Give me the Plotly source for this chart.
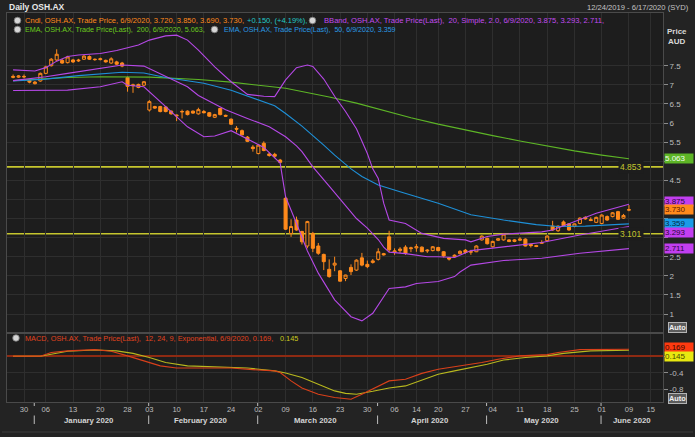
import plotly.graph_objects as go

# ---------------- data ----------------
dates = [
    "2019-12-24", "2019-12-27", "2019-12-30", "2019-12-31",
    "2020-01-02", "2020-01-03", "2020-01-06", "2020-01-07", "2020-01-08", "2020-01-09", "2020-01-10",
    "2020-01-13", "2020-01-14", "2020-01-15", "2020-01-16", "2020-01-17",
    "2020-01-20", "2020-01-21", "2020-01-22", "2020-01-23", "2020-01-24",
    "2020-01-28", "2020-01-29", "2020-01-30", "2020-01-31",
    "2020-02-03", "2020-02-04", "2020-02-05", "2020-02-06", "2020-02-07",
    "2020-02-10", "2020-02-11", "2020-02-12", "2020-02-13", "2020-02-14",
    "2020-02-17", "2020-02-18", "2020-02-19", "2020-02-20", "2020-02-21",
    "2020-02-24", "2020-02-25", "2020-02-26", "2020-02-27", "2020-02-28",
    "2020-03-02", "2020-03-03", "2020-03-04", "2020-03-05", "2020-03-06",
    "2020-03-09", "2020-03-10", "2020-03-11", "2020-03-12", "2020-03-13",
    "2020-03-16", "2020-03-17", "2020-03-18", "2020-03-19", "2020-03-20",
    "2020-03-23", "2020-03-24", "2020-03-25", "2020-03-26", "2020-03-27",
    "2020-03-30", "2020-03-31", "2020-04-01", "2020-04-02", "2020-04-03",
    "2020-04-06", "2020-04-07", "2020-04-08", "2020-04-09",
    "2020-04-14", "2020-04-15", "2020-04-16", "2020-04-17",
    "2020-04-20", "2020-04-21", "2020-04-22", "2020-04-23", "2020-04-24",
    "2020-04-27", "2020-04-28", "2020-04-29", "2020-04-30", "2020-05-01",
    "2020-05-04", "2020-05-05", "2020-05-06", "2020-05-07", "2020-05-08",
    "2020-05-11", "2020-05-12", "2020-05-13", "2020-05-14", "2020-05-15",
    "2020-05-18", "2020-05-19", "2020-05-20", "2020-05-21", "2020-05-22",
    "2020-05-25", "2020-05-26", "2020-05-27", "2020-05-28", "2020-05-29",
    "2020-06-01", "2020-06-02", "2020-06-03", "2020-06-04", "2020-06-05",
    "2020-06-09",
]
future_dates = ["2020-06-10", "2020-06-11", "2020-06-12", "2020-06-15", "2020-06-16", "2020-06-17"]

opens = [7.22, 7.20, 7.22, 7.12, 7.03, 7.10, 7.30, 7.50, 7.65, 7.64, 7.58, 7.65, 7.65, 7.67, 7.74, 7.67,
         7.66, 7.64, 7.57, 7.60, 7.57, 7.19, 7.00, 6.93, 6.99, 6.34, 6.43, 6.43, 6.42, 6.31, 6.21, 6.29,
         6.31, 6.31, 6.24, 6.30, 6.27, 6.15, 6.38, 6.20, 6.10, 5.86, 5.80, 5.63, 5.37, 5.20, 5.47, 5.19,
         5.18, 5.03, 4.03, 3.11, 3.46, 3.16, 2.78, 3.11, 2.78, 2.56, 2.17, 2.28, 2.13, 1.93, 2.22, 2.15,
         2.47, 2.30, 2.35, 2.43, 2.58, 3.02, 2.62, 2.66, 2.75, 2.71, 2.73, 2.75, 2.65, 2.66, 2.74, 2.63,
         2.47, 2.50, 2.58, 2.67, 2.62, 2.63, 2.94, 2.98, 2.76, 2.93, 2.94, 2.94, 2.90, 2.93, 2.96, 2.82,
         2.79, 2.85, 2.92, 3.30, 3.18, 3.41, 3.36, 3.29, 3.37, 3.53, 3.47, 3.40, 3.37, 3.55, 3.55, 3.68,
         3.51, 3.72]
highs = [7.27, 7.25, 7.27, 7.14, 7.10, 7.32, 7.50, 7.70, 7.93, 7.68, 7.76, 7.68, 7.68, 7.78, 7.77, 7.69,
         7.71, 7.66, 7.72, 7.63, 7.60, 7.22, 7.03, 7.03, 7.10, 6.60, 6.45, 6.45, 6.44, 6.33, 6.22, 6.35,
         6.33, 6.33, 6.40, 6.34, 6.29, 6.24, 6.40, 6.22, 6.12, 5.92, 5.83, 5.66, 5.42, 5.45, 5.52, 5.22,
         5.22, 5.06, 4.08, 3.48, 3.55, 3.18, 3.44, 3.15, 2.86, 2.58, 2.43, 2.50, 2.15, 2.03, 2.30, 2.43,
         2.60, 2.40, 2.44, 2.72, 2.60, 3.18, 2.72, 2.75, 2.80, 2.76, 2.83, 2.77, 2.70, 2.78, 2.76, 2.65,
         2.49, 2.56, 2.67, 2.70, 2.68, 2.80, 3.06, 3.00, 2.92, 2.99, 3.12, 2.96, 2.96, 3.01, 2.98, 2.84,
         2.81, 2.93, 3.06, 3.44, 3.32, 3.45, 3.38, 3.37, 3.53, 3.56, 3.53, 3.55, 3.61, 3.58, 3.67, 3.70,
         3.62, 3.85]
lows = [7.17, 7.18, 7.17, 7.04, 7.01, 7.08, 7.28, 7.48, 7.62, 7.55, 7.56, 7.57, 7.60, 7.65, 7.65, 7.63,
        7.64, 7.58, 7.55, 7.52, 7.46, 6.82, 6.79, 6.91, 6.97, 6.30, 6.37, 6.28, 6.28, 6.22, 6.05, 6.12,
        6.20, 6.24, 6.22, 6.25, 6.16, 6.13, 6.20, 6.16, 5.95, 5.75, 5.68, 5.50, 5.25, 5.18, 5.26, 5.12,
        5.08, 4.95, 3.20, 3.02, 3.18, 2.82, 2.72, 2.62, 2.55, 2.15, 1.95, 2.12, 1.85, 1.86, 2.02, 2.13,
        2.25, 2.20, 2.32, 2.40, 2.53, 2.62, 2.55, 2.60, 2.55, 2.62, 2.63, 2.62, 2.60, 2.64, 2.64, 2.48,
        2.40, 2.48, 2.56, 2.58, 2.55, 2.62, 2.92, 2.82, 2.74, 2.91, 2.92, 2.88, 2.88, 2.91, 2.77, 2.74,
        2.75, 2.84, 2.90, 3.18, 3.15, 3.29, 3.18, 3.27, 3.35, 3.47, 3.43, 3.38, 3.35, 3.44, 3.53, 3.46,
        3.49, 3.69]
closes = [7.20, 7.23, 7.21, 7.07, 7.07, 7.30, 7.47, 7.67, 7.80, 7.57, 7.73, 7.60, 7.63, 7.75, 7.67, 7.66,
          7.68, 7.60, 7.68, 7.54, 7.49, 6.96, 6.98, 7.01, 7.08, 6.56, 6.39, 6.30, 6.30, 6.24, 6.19, 6.30,
          6.22, 6.26, 6.35, 6.27, 6.18, 6.22, 6.22, 6.18, 5.97, 5.84, 5.69, 5.52, 5.33, 5.42, 5.28, 5.15,
          5.13, 4.97, 3.22, 3.29, 3.20, 2.89, 3.42, 2.72, 2.59, 2.37, 1.98, 2.33, 1.86, 2.02, 2.11, 2.41,
          2.28, 2.24, 2.39, 2.63, 2.55, 2.68, 2.65, 2.70, 2.59, 2.73, 2.76, 2.63, 2.67, 2.76, 2.66, 2.52,
          2.44, 2.54, 2.64, 2.61, 2.63, 2.78, 3.04, 2.84, 2.90, 2.97, 3.09, 2.90, 2.94, 2.96, 2.78, 2.79,
          2.77, 2.87, 3.04, 3.20, 3.30, 3.31, 3.20, 3.36, 3.51, 3.49, 3.45, 3.53, 3.59, 3.46, 3.65, 3.48,
          3.58, 3.73]

# Bollinger bands (20, 2.0)
bb_upper_dates = ["2019-12-24", "2020-01-02", "2020-01-06", "2020-01-08", "2020-01-10", "2020-01-14",
                  "2020-01-20", "2020-01-23", "2020-01-30", "2020-02-03", "2020-02-06", "2020-02-10",
                  "2020-02-12", "2020-02-14", "2020-02-19", "2020-02-24", "2020-02-27", "2020-03-03",
                  "2020-03-05", "2020-03-09", "2020-03-11", "2020-03-13", "2020-03-16", "2020-03-18",
                  "2020-03-20", "2020-03-24", "2020-03-26", "2020-03-30", "2020-03-31", "2020-04-01",
                  "2020-04-02", "2020-04-03", "2020-04-08", "2020-04-15", "2020-04-21", "2020-04-27",
                  "2020-04-28", "2020-05-01", "2020-05-06", "2020-05-15", "2020-05-19", "2020-05-25",
                  "2020-05-29", "2020-06-09"]
bb_upper = [7.39, 7.36, 7.45, 7.62, 7.74, 7.78, 7.82, 7.90, 8.04, 8.17, 8.28, 8.30, 8.17, 7.91, 7.47,
            7.08, 6.75, 6.70, 6.69, 7.13, 7.45, 7.52, 7.48, 7.15, 6.70, 6.30, 5.85, 5.20, 4.80, 4.55,
            3.90, 3.46, 3.37, 3.11, 2.98, 2.94, 2.89, 3.03, 3.09, 3.15, 3.20, 3.42, 3.64, 3.875]
bb_mid_dates = ["2019-12-24", "2020-01-06", "2020-01-10", "2020-01-20", "2020-01-24", "2020-01-31",
                "2020-02-06", "2020-02-12", "2020-02-14", "2020-02-21", "2020-02-27", "2020-03-04",
                "2020-03-09", "2020-03-11", "2020-03-12", "2020-03-13", "2020-03-16", "2020-03-19",
                "2020-03-24", "2020-03-26", "2020-03-30", "2020-04-01", "2020-04-02", "2020-04-03",
                "2020-04-08", "2020-04-16", "2020-04-20", "2020-04-23", "2020-04-28", "2020-05-06",
                "2020-05-15", "2020-05-26", "2020-05-29", "2020-06-09"]
bb_mid = [7.11, 7.21, 7.30, 7.43, 7.52, 7.49, 7.21, 6.95, 6.72, 6.35, 6.12, 5.90, 5.64, 5.40, 5.25,
          5.05, 4.85, 4.35, 3.85, 3.50, 3.25, 2.95, 2.75, 2.62, 2.58, 2.50, 2.50, 2.48, 2.66, 2.75,
          2.87, 3.07, 3.15, 3.293]
bb_lower_dates = ["2019-12-24", "2020-01-10", "2020-01-20", "2020-01-24", "2020-01-28", "2020-01-31",
                  "2020-02-06", "2020-02-12", "2020-02-17", "2020-02-19", "2020-02-24", "2020-02-27",
                  "2020-03-03", "2020-03-06", "2020-03-09", "2020-03-11", "2020-03-12", "2020-03-13",
                  "2020-03-17", "2020-03-20", "2020-03-25", "2020-03-27", "2020-03-31", "2020-04-03",
                  "2020-04-08", "2020-04-14", "2020-04-20", "2020-04-23", "2020-04-24", "2020-04-28",
                  "2020-05-06", "2020-05-15", "2020-05-26", "2020-06-09"]
bb_lower = [6.85, 6.86, 6.95, 7.08, 6.99, 6.95, 6.43, 5.90, 5.64, 5.66, 5.80, 5.57, 5.36, 4.95, 4.07,
            3.37, 3.02, 2.65, 2.07, 1.37, 0.93, 0.82, 1.02, 1.67, 1.71, 1.80, 1.85, 1.98, 2.10, 2.28,
            2.40, 2.46, 2.59, 2.711]

# EMAs
ema200_dates = ["2019-12-24", "2020-01-10", "2020-01-20", "2020-02-03", "2020-02-14", "2020-02-24",
                "2020-03-09", "2020-03-12", "2020-03-19", "2020-03-26", "2020-04-02", "2020-04-09",
                "2020-04-20", "2020-04-27", "2020-05-04", "2020-05-11", "2020-05-18", "2020-05-25",
                "2020-06-01", "2020-06-09"]
ema200 = [7.11, 7.19, 7.21, 7.20, 7.14, 7.07, 6.91, 6.83, 6.68, 6.52, 6.32, 6.14, 5.97, 5.81, 5.67,
          5.53, 5.39, 5.27, 5.16, 5.063]
ema50_dates = ["2019-12-24", "2020-01-06", "2020-01-14", "2020-01-21", "2020-01-24", "2020-01-31",
               "2020-02-06", "2020-02-17", "2020-02-24", "2020-03-05", "2020-03-09", "2020-03-12",
               "2020-03-16", "2020-03-18", "2020-03-20", "2020-03-24", "2020-03-25", "2020-03-27",
               "2020-04-01", "2020-04-07", "2020-04-20", "2020-04-28", "2020-05-06", "2020-05-14",
               "2020-05-20", "2020-05-27", "2020-06-09"]
ema50 = [7.10, 7.15, 7.24, 7.30, 7.33, 7.31, 7.19, 7.04, 6.86, 6.45, 6.25, 5.92, 5.68, 5.42, 5.16,
         4.92, 4.80, 4.60, 4.38, 4.20, 3.90, 3.60, 3.46, 3.34, 3.29, 3.30, 3.359]

# MACD (12, 24, 9)
macd_dates = ["2019-12-24", "2020-01-03", "2020-01-07", "2020-01-10", "2020-01-17", "2020-01-22",
              "2020-01-28", "2020-01-31", "2020-02-05", "2020-02-10", "2020-02-14", "2020-02-24",
              "2020-02-28", "2020-03-05", "2020-03-06", "2020-03-10", "2020-03-12", "2020-03-17",
              "2020-03-20", "2020-03-25", "2020-03-27", "2020-03-31", "2020-04-03", "2020-04-08",
              "2020-04-15", "2020-04-20", "2020-04-23", "2020-04-30", "2020-05-05", "2020-05-11",
              "2020-05-18", "2020-05-20", "2020-05-26", "2020-06-02", "2020-06-09"]
macd = [0.0, 0.0, 0.09, 0.13, 0.16, 0.12, 0.01, -0.11, -0.23, -0.28, -0.28, -0.28, -0.32, -0.35,
        -0.39, -0.59, -0.76, -0.91, -0.99, -1.03, -0.91, -0.79, -0.59, -0.55, -0.41, -0.31, -0.25,
        -0.15, -0.07, 0.01, 0.04, 0.09, 0.16, 0.17, 0.169]
signal_dates = ["2019-12-24", "2020-01-03", "2020-01-10", "2020-01-17", "2020-01-23", "2020-01-29",
                "2020-02-03", "2020-02-06", "2020-02-12", "2020-02-19", "2020-02-27", "2020-03-05",
                "2020-03-09", "2020-03-12", "2020-03-17", "2020-03-20", "2020-03-24", "2020-03-26",
                "2020-03-31", "2020-04-03", "2020-04-08", "2020-04-15", "2020-04-20", "2020-04-23",
                "2020-04-28", "2020-05-01", "2020-05-06", "2020-05-12", "2020-05-18", "2020-05-21",
                "2020-05-28", "2020-06-09"]
signal = [0.0, 0.0, 0.12, 0.15, 0.13, 0.07, -0.03, -0.15, -0.23, -0.25, -0.28, -0.35, -0.40, -0.51,
          -0.67, -0.83, -0.89, -0.91, -0.84, -0.76, -0.71, -0.57, -0.43, -0.35, -0.27, -0.19, -0.09,
          -0.03, 0.01, 0.07, 0.13, 0.145]

levels = [4.853, 3.101]
price_ticks = [1, 1.5, 2, 2.5, 3, 3.5, 4, 4.5, 5, 5.5, 6, 6.5, 7, 7.5]
# labels at 3, 3.5, 4 and 5 sit under the last-value boxes in the reference
price_ticktext = ["1", "1.5", "2", "2.5", "", "", "", "4.5", "", "5.5", "6", "6.5", "7", "7.5"]
macd_ticks = [0, -0.4, -0.8]
macd_ticktext = ["", "-0.4", "-0.8"]
week_ticks = ["2019-12-30", "2020-01-06", "2020-01-13", "2020-01-20", "2020-01-28", "2020-02-03",
              "2020-02-10", "2020-02-17", "2020-02-24", "2020-03-02", "2020-03-09", "2020-03-16",
              "2020-03-23", "2020-03-30", "2020-04-06", "2020-04-14", "2020-04-20", "2020-04-27",
              "2020-05-04", "2020-05-11", "2020-05-18", "2020-05-25", "2020-06-01", "2020-06-09",
              "2020-06-15"]
week_ticktext = ["30", "06", "13", "20", "28", "03", "10", "17", "24", "02", "09", "16", "23", "30",
                 "06", "14", "20", "27", "04", "11", "18", "25", "01", "09", "15"]
months = ["2020-01", "2020-02", "2020-03", "2020-04", "2020-05", "2020-06"]
month_names = ["January 2020", "February 2020", "March 2020", "April 2020", "May 2020", "June 2020"]

# ---------------- styling ----------------
W_PX, H_PX = 695, 437
L, R, T, B = 7, 663, 13, 402
PW, PH = R - L, B - T
FONT = "Liberation Sans"
BG = "#1d1d1d"
PAPER = "#232323"
GRID = "#2e2e2e"
FRAME = "#4a4a4a"
ORANGE = "#FF8A1C"
PURPLE = "#B548E6"
GREEN = "#5DB526"
BLUE = "#1E90D8"
YEL = "#C6C62E"
MACD_C = "#D9401A"
SIG_C = "#B8B81E"


def px(x):
    return (x - L) / PW


def py(y):
    return (B - y) / PH


all_dates = dates + future_dates
main_dom = [py(332), 1.0]
macd_dom = [0.0, py(334)]

fig = go.Figure()

for xs, ys, col in [(ema200_dates, ema200, GREEN), (ema50_dates, ema50, BLUE),
                    (bb_upper_dates, bb_upper, PURPLE), (bb_mid_dates, bb_mid, PURPLE),
                    (bb_lower_dates, bb_lower, PURPLE)]:
    fig.add_trace(go.Scatter(x=xs, y=ys, mode="lines", line=dict(color=col, width=1.1),
                             xaxis="x", yaxis="y", hoverinfo="skip"))

fig.add_trace(go.Candlestick(
    x=dates, open=opens, high=highs, low=lows, close=closes, xaxis="x", yaxis="y",
    increasing=dict(line=dict(color=ORANGE, width=1), fillcolor=BG),
    decreasing=dict(line=dict(color=ORANGE, width=1), fillcolor=ORANGE),
    whiskerwidth=0,
))

fig.add_trace(go.Scatter(x=signal_dates, y=signal, mode="lines", line=dict(color=SIG_C, width=1.1),
                         xaxis="x2", yaxis="y2"))
fig.add_trace(go.Scatter(x=macd_dates, y=macd, mode="lines", line=dict(color=MACD_C, width=1.1),
                         xaxis="x2", yaxis="y2"))

axis_common = dict(type="category", categoryorder="array", categoryarray=all_dates,
                   range=[-1.12, 119.25], tickvals=week_ticks, ticktext=week_ticktext,
                   showgrid=True, gridcolor=GRID, gridwidth=1, zeroline=False,
                   showline=True, linecolor=FRAME, mirror=True, ticks="",
                   rangeslider=dict(visible=False))

fig.update_layout(
    width=W_PX, height=H_PX,
    margin=dict(l=L, r=W_PX - R, t=T, b=H_PX - B, pad=0),
    paper_bgcolor=PAPER, plot_bgcolor=BG,
    showlegend=False,
    boxgap=0.2, boxgroupgap=0.3,
    font=dict(family=FONT, color="#c8c8c8", size=8),
    xaxis=dict(domain=[0, 1], anchor="y", showticklabels=False, **axis_common),
    xaxis2=dict(domain=[0, 1], anchor="y2", matches="x", showticklabels=True,
                tickfont=dict(size=7.6, color="#bdbdbd", family=FONT), **axis_common),
    yaxis=dict(domain=main_dom, anchor="x", side="right", range=[0.529, 8.88],
               tickvals=price_ticks, ticktext=price_ticktext, ticks="outside", ticklen=4,
               tickcolor="#8a8a8a", tickfont=dict(size=8, color="#bdbdbd", family=FONT),
               showgrid=True, gridcolor=GRID, zeroline=False,
               showline=True, linecolor=FRAME, mirror=True),
    yaxis2=dict(domain=macd_dom, anchor="x2", side="right", range=[-1.096, 0.535],
                tickvals=macd_ticks, ticktext=macd_ticktext, ticks="outside", ticklen=4,
                tickcolor="#8a8a8a", tickfont=dict(size=8, color="#bdbdbd", family=FONT),
                showgrid=True, gridcolor=GRID, zeroline=True, zerolinecolor="#8e2a12",
                zerolinewidth=1.6, showline=True, linecolor=FRAME, mirror=True),
)

shapes = []
annotations = []

for lv in levels:
    shapes.append(dict(type="line", xref="x domain", yref="y", x0=0, x1=1, y0=lv, y1=lv,
                       line=dict(color=YEL, width=1.6), layer="below"))
    annotations.append(dict(xref="paper", yref="y", x=px(631), y=lv, text=f"{lv:.3f}",
                            showarrow=False, xanchor="center", yanchor="middle",
                            font=dict(color=YEL, size=8.5, family=FONT), bgcolor=BG, borderpad=1))

last_vals = [
    (ema200[-1], GREEN, "#f4fff0", 0, "y"),
    (bb_upper[-1], "#C23EF0", "#2a0838", 3, "y"),
    (closes[-1], ORANGE, "#5a1800", 0, "y"),
    (ema50[-1], "#1A9BE8", "#062a44", 0, "y"),
    (bb_mid[-1], "#C23EF0", "#2a0838", -6, "y"),
    (bb_lower[-1], "#C23EF0", "#2a0838", 0, "y"),
    (macd[-1], "#FF3A10", "#3a0800", 2, "y2"),
    (signal[-1], "#E8E810", "#4a4a00", -6, "y2"),
]
for val, bg, fg, shift, yr in last_vals:
    annotations.append(dict(xref="paper", yref=yr, x=px(664), y=val, yshift=shift,
                            text=f"{val:.3f}", showarrow=False, xanchor="left", yanchor="middle",
                            width=28, height=9, align="left", bgcolor=bg, borderpad=0,
                            font=dict(color=fg, size=8, family=FONT)))

annotations.append(dict(xref="paper", yref="paper", x=px(7), y=py(7), text="<b>Daily OSH.AX</b>",
                        showarrow=False, xanchor="left", yanchor="middle",
                        font=dict(color="#e8e8e8", size=8.5, family=FONT)))
annotations.append(dict(xref="paper", yref="paper", x=px(691), y=py(7),
                        text="12/24/2019 - 6/17/2020 (SYD)", showarrow=False, xanchor="right",
                        yanchor="middle", font=dict(color="#c4c4c4", size=7.6, family=FONT)))

chg = closes[-1] - closes[-2]
pct = chg / closes[-2] * 100
last_day = "6/9/2020"
legend_items = [
    (23, 20.5, f"Cndl, OSH.AX, Trade Price, {last_day}, {opens[-1]:.3f}, {highs[-1]:.3f}, "
               f"{lows[-1]:.3f}, {closes[-1]:.3f},", ORANGE, 7.55),
    (245, 20.5, f"+{chg:.3f}, (+{pct:.2f}%),", "#22C8C8", 7.55),
    (322, 20.5, f"BBand, OSH.AX, Trade Price(Last),  20, Simple, 2.0, {last_day}, "
                f"{bb_upper[-1]:.3f}, {bb_mid[-1]:.3f}, {bb_lower[-1]:.3f},", "#C34BF0", 7.6),
    (23, 29.5, f"EMA, OSH.AX, Trade Price(Last),  200, {last_day}, {ema200[-1]:.3f},",
     "#6CCB1E", 7.2),
    (222, 29.5, f"EMA, OSH.AX, Trade Price(Last),  50, {last_day}, {ema50[-1]:.3f}",
     "#2A9BE6", 7.1),
    (23, 338, f"MACD, OSH.AX, Trade Price(Last),  12, 24, 9, Exponential, {last_day}, "
              f"{macd[-1]:.3f},", "#E0431E", 7.35),
    (278, 338, f"{signal[-1]:.3f}", "#CACA20", 7.35),
]
for x0, y0, txt, col, fs in legend_items:
    annotations.append(dict(xref="paper", yref="paper", x=px(x0), y=py(y0), text=txt,
                            showarrow=False, xanchor="left", yanchor="middle",
                            font=dict(color=col, size=fs, family=FONT)))
for cx, cy in [(17.5, 20.5), (312.5, 20.5), (17.5, 29.5), (214.5, 29.5), (16, 338)]:
    shapes.append(dict(type="circle", xref="paper", yref="paper",
                       x0=px(cx - 3.3), x1=px(cx + 3.3), y0=py(cy + 3.3), y1=py(cy - 3.3),
                       fillcolor="#d6d6d6", line=dict(color="#777777", width=0.8), layer="above"))

annotations.append(dict(xref="paper", yref="paper", x=px(677), y=py(31.5), text="<b>Price</b>",
                        showarrow=False, xanchor="center", yanchor="middle",
                        font=dict(color="#d8d8d8", size=8, family=FONT)))
annotations.append(dict(xref="paper", yref="paper", x=px(677), y=py(41.5), text="<b>AUD</b>",
                        showarrow=False, xanchor="center", yanchor="middle",
                        font=dict(color="#d8d8d8", size=8, family=FONT)))
for yb in (327.5, 398):
    annotations.append(dict(xref="paper", yref="paper", x=px(677.5), y=py(yb), text="<b>Auto</b>",
                            showarrow=False, xanchor="center", yanchor="middle",
                            font=dict(color="#f0f0f0", size=7.4, family=FONT),
                            bgcolor="#5c5c5c", bordercolor="#b4b4b4", borderwidth=1, borderpad=0))

for m, name in zip(months, month_names):
    idx = [i for i, d in enumerate(all_dates) if d.startswith(m)]
    centre = (idx[0] + idx[-1]) / 2
    annotations.append(dict(xref="x2", yref="paper", x=centre, y=py(420), text=f"<b>{name}</b>",
                            showarrow=False, xanchor="center", yanchor="middle",
                            font=dict(color="#d4d4d4", size=7.8, family=FONT)))
    sep = idx[0] - 0.12
    shapes.append(dict(type="line", xref="x2", yref="paper", x0=sep, x1=sep,
                       y0=py(415.5), y1=py(424), line=dict(color="#bdbdbd", width=1)))
    shapes.append(dict(type="line", xref="x2", yref="paper", x0=sep, x1=sep,
                       y0=py(403), y1=py(406), line=dict(color="#bdbdbd", width=1)))

shapes.append(dict(type="line", xref="paper", yref="paper", x0=px(2), x1=px(693),
                   y0=py(432), y1=py(432), line=dict(color="#3c3c3c", width=1)))

fig.update_layout(shapes=shapes, annotations=annotations)
fig.write_html("out.html")
